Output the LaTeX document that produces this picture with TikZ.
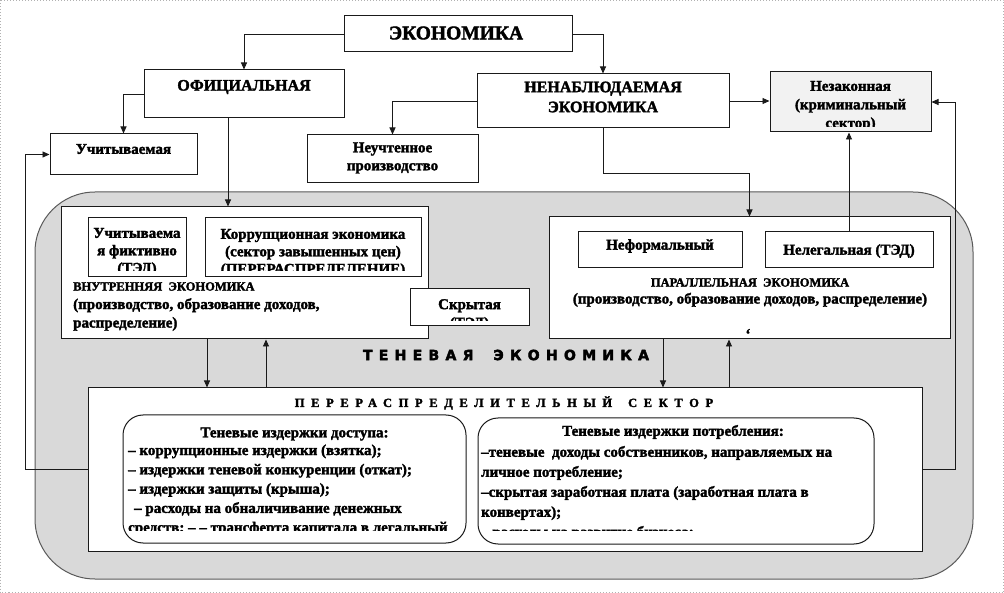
\documentclass[tikz,border=0pt]{standalone}
\usepackage{fontspec}
\setmainfont{Liberation Serif}[BoldFeatures={FakeBold=2}]
\newfontfamily\spacedserif{Liberation Serif}[LetterSpace=53, BoldFeatures={FakeBold=2}]
\newfontfamily\spacedsans{DejaVu Sans}[LetterSpace=45, BoldFeatures={FakeBold=3}]
\usetikzlibrary{arrows.meta}
\definecolor{shadowfill}{HTML}{D9D9D9}
\definecolor{illegalfill}{HTML}{F2F2F2}
\definecolor{edgecolor}{HTML}{1A1A1A}
\newcommand{\bodysize}{\fontsize{15}{18.5}\selectfont}
\newcommand{\capsize}{\fontsize{12.5}{17}\selectfont}

\begin{document}
\begin{tikzpicture}[x=1pt, y=-1pt,
    block/.style={rectangle, draw=edgecolor, line width=1pt, fill=white, inner sep=0pt},
    softblock/.style={block, rounded corners=20pt},
    txt/.style={inner sep=0pt, align=center, font=\bfseries\bodysize},
    link/.style={-{Triangle[length=7pt, width=6pt]}, line width=0.9pt, draw=edgecolor}
]
\useasboundingbox (0,0) rectangle (1004,593);
\draw[gray!60, dotted, line width=1pt] (0.5,0.5) rectangle (1003.5,592.5);

% shadow economy area
\node[block, draw=black!65, fill=shadowfill, rounded corners=60pt,
      minimum width=938pt, minimum height=387pt] (shadow) at (504,385.5) {};
\node[inner sep=0pt, font=\spacedsans\bfseries\fontsize{14}{15}\selectfont]
      (shadowtext) at (506,355) {ТЕНЕВАЯ\hspace{20pt}ЭКОНОМИКА};

% top level
\node[block, minimum width=228pt, minimum height=36pt] (economy) at (458,34) {};
\node[txt, font=\bfseries\fontsize{19.5}{22}\selectfont] (economytext) at (456,33) {ЭКОНОМИКА};

\node[block, minimum width=200pt, minimum height=48pt] (official) at (244,94) {};
\node[txt, font=\bfseries\fontsize{16}{20}\selectfont] (officialtext) at (244,87) {ОФИЦИАЛЬНАЯ};

\node[block, minimum width=252pt, minimum height=54pt] (unobserved) at (603,101) {};
\node[txt, font=\bfseries\fontsize{16}{20}\selectfont] (unobservedtext) at (603,97) {НЕНАБЛЮДАЕМАЯ\\ЭКОНОМИКА};

\node[block, fill=illegalfill, minimum width=161pt, minimum height=60pt] (illegal) at (850.5,102) {};
\begin{scope}
  \clip ([yshift=6pt]illegal.south west) rectangle (illegal.north east);
  \node[txt] (illegaltext) at (850.5,106) {Незаконная\\(криминальный\\сектор)};
\end{scope}

\node[block, minimum width=147pt, minimum height=41pt] (accounted) at (123.5,154.5) {};
\node[txt] (accountedtext) at (123.5,149) {Учитываемая};

\node[block, minimum width=171pt, minimum height=48pt] (unrecorded) at (392.5,159) {};
\node[txt, font=\bfseries\fontsize{15}{18}\selectfont] (unrecordedtext) at (392.5,158) {Неучтенное\\производство};

% internal economy
\node[block, minimum width=367pt, minimum height=132pt] (inner) at (244.5,273) {};
\node[block, minimum width=98pt, minimum height=59pt] (fictive) at (137,247.5) {};
\begin{scope}
  \clip ([yshift=7pt]fictive.south west) rectangle (fictive.north east);
  \node[txt, font=\bfseries\fontsize{15}{17.5}\selectfont] (fictivetext) at (137,252) {Учитываема\\я фиктивно\\(ТЭД)};
\end{scope}
\node[block, minimum width=216pt, minimum height=59pt] (corrupt) at (313,247.5) {};
\begin{scope}
  \clip ([yshift=7pt]corrupt.south west) rectangle (corrupt.north east);
  \node[txt, font=\bfseries\fontsize{15}{17.5}\selectfont] (corrupttext) at (313,253) {Коррупционная экономика\\(сектор завышенных цен)\\(ПЕРЕРАСПРЕДЕЛЕНИЕ)};
\end{scope}
\node[txt, align=left, anchor=west] (innertext) at (73,306.5)
      {{\capsize ВНУТРЕННЯЯ\ \ ЭКОНОМИКА}\\(производство, образование доходов,\\распределение)};

\node[block, minimum width=119pt, minimum height=37pt] (hidden) at (469.5,307.5) {};
\begin{scope}
  \clip ([yshift=6pt]hidden.south west) rectangle (hidden.north east);
  \node[txt] (hiddentext) at (469.5,315) {Скрытая\\(ТЭД)};
\end{scope}

% parallel economy
\node[block, minimum width=401pt, minimum height=122pt] (parallel) at (749.5,278) {};
\node[block, minimum width=164pt, minimum height=36pt] (informal) at (660,250) {};
\node[txt] (informaltext) at (660,246) {Неформальный};
\node[block, minimum width=168pt, minimum height=36pt] (nonlegal) at (849,250) {};
\node[txt] (nonlegaltext) at (849,251) {Нелегальная\ (ТЭД)};
\node[txt, font=\bfseries\fontsize{15}{17}\selectfont] (paralleltext) at (750,292.5)
      {{\capsize ПАРАЛЛЕЛЬНАЯ\ \ ЭКОНОМИКА}\\(производство, образование доходов, распределение)};
\node[txt] (tick) at (748,334) {`};

% redistribution sector
\node[block, minimum width=834pt, minimum height=163pt] (redistribution) at (505,469.5) {};
\node[inner sep=0pt, font=\spacedserif\bfseries\fontsize{12.5}{14}\selectfont]
      (redistributiontext) at (504,403) {ПЕРЕРАСПРЕДЕЛИТЕЛЬНЫЙ\hspace{16pt}СЕКТОР};

\node[softblock, minimum width=343pt, minimum height=128pt] (access) at (294.5,479) {};
\node[txt] (accesstitle) at (294.5,434) {Теневые издержки доступа:};
\begin{scope}
  \clip ([yshift=13pt]access.south west) rectangle (access.north east);
  \node[txt, align=left, anchor=west, font=\bfseries\fontsize{15}{19.3}\selectfont] (accesslist) at (128,490)
        {– коррупционные издержки (взятка);\\– издержки теневой конкуренции (откат);\\– издержки защиты (крыша);\\
         \hspace{6pt}– расходы на обналичивание денежных\\средств; – – трансферта капитала в легальный};
\end{scope}

\node[softblock, minimum width=396pt, minimum height=126pt] (consumption) at (676,481) {};
\node[txt] (consumptiontitle) at (673,432) {Теневые издержки потребления:};
\begin{scope}
  \clip ([yshift=14pt]consumption.south west) rectangle (consumption.north east);
  \node[txt, align=left, anchor=west, font=\bfseries\fontsize{15}{20}\selectfont] (consumptionlist) at (481,493)
        {–теневые\ \ доходы собственников, направляемых на\\личное потребление;\\
         –скрытая заработная плата (заработная плата в\\конвертах);\\– расходы на развитие бизнеса;};
\end{scope}

% connectors
\draw[link] (economy.west) -| (official.north);
\draw[link] (economy.east) -| (unobserved.north);
\draw[link] (official.west) -| (accounted.north);
\draw[link] (unobserved.west) -| (unrecorded.north);
\draw[link] (unobserved.east) -- (unobserved.east -| illegal.west);
\draw[link] ([xshift=-16pt]official.south) -- ([xshift=-16pt]official.south |- inner.north);
\draw[link] (unobserved.south) -- ++(0,45) -| (parallel.north);
\draw[link] (nonlegal.north) -- (nonlegal.north |- illegal.south);
\draw[link] ([xshift=-37.5pt]inner.south) -- ([xshift=-37.5pt]inner.south |- redistribution.north);
\draw[link] ([xshift=21.5pt]inner.south |- redistribution.north) -- ([xshift=21.5pt]inner.south);
\draw[link] ([xshift=-86.5pt]parallel.south) -- ([xshift=-86.5pt]parallel.south |- redistribution.north);
\draw[link] ([xshift=-20.5pt]parallel.south |- redistribution.north) -- ([xshift=-20.5pt]parallel.south);
\draw[link] (redistribution.west) -- ++(-62,0) |- (accounted.west);
\draw[link] (redistribution.east) -- ++(33,0) |- (illegal.east);
\end{tikzpicture}
\end{document}
